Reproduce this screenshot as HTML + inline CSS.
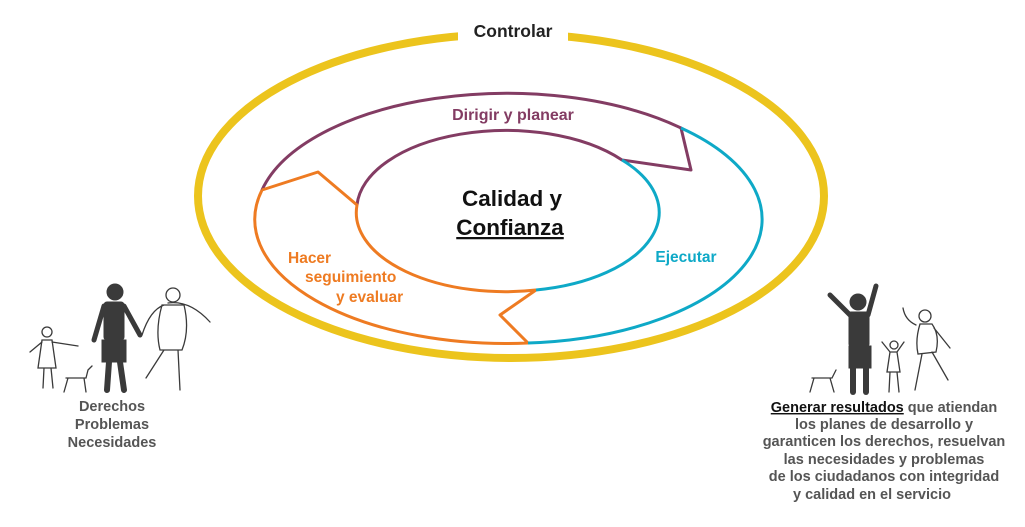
<!DOCTYPE html>
<html><head><meta charset="utf-8"><style>
body{margin:0;background:#fff;width:1025px;height:522px;overflow:hidden;font-family:"Liberation Sans",sans-serif;}
</style></head><body>
<svg width="1025" height="522" viewBox="0 0 1025 522" xmlns="http://www.w3.org/2000/svg" font-family="Liberation Sans, sans-serif" font-weight="bold">
<ellipse cx="511" cy="196" rx="313" ry="162" fill="none" stroke="#ecc41d" stroke-width="8"/>
<rect x="458" y="15" width="110" height="32" fill="#fff"/>
<text x="513" y="37" text-anchor="middle" font-size="17.5" fill="#222">Controlar</text>
<g fill="none" stroke-width="3" stroke-linejoin="round">
<path d="M262,190 A251,124 0 0 1 681,128 L691,170 L622,160 A149,79 0 0 0 357,205" stroke="#833c63"/>
<path d="M262,190 L318,172 L357,205 A149,79 0 0 0 536,290 L500,315 L528,343 A251,124 0 0 1 262,190" stroke="#ee7b22"/>
<path d="M622,160 A149,79 0 0 1 536,290" stroke="#0ea9c7"/>
<path d="M681,128 A251,124 0 0 1 528,343" stroke="#0ea9c7"/>
</g>
<text x="513" y="120" text-anchor="middle" font-size="16" fill="#833c63">Dirigir y planear</text>
<text x="512" y="206" text-anchor="middle" font-size="22.5" fill="#111">Calidad y</text>
<text x="510" y="235" text-anchor="middle" font-size="22.5" fill="#111" text-decoration="underline">Confianza</text>
<text x="686" y="262" text-anchor="middle" font-size="15.5" fill="#0ea9c7">Ejecutar</text>
<g font-size="15.5" fill="#ee7b22">
<text x="288" y="263">Hacer</text>
<text x="305" y="282">seguimiento</text>
<text x="336" y="302">y evaluar</text>
</g>
<!-- left family -->
<g fill="#3a3a3a" stroke="#3a3a3a" stroke-linecap="round">
<circle cx="115" cy="292" r="8"/>
<rect x="104" y="302" width="20" height="38" rx="3"/>
<rect x="102" y="340" width="24" height="22"/>
<line x1="109" y1="362" x2="107" y2="390" stroke-width="6"/>
<line x1="120" y1="362" x2="124" y2="390" stroke-width="6"/>
<line x1="104" y1="306" x2="94" y2="340" stroke-width="5"/>
<line x1="124" y1="306" x2="140" y2="335" stroke-width="5"/>
<g fill="none" stroke-width="1.3">
<circle cx="173" cy="295" r="7"/>
<path d="M164,305 Q150,310 142,335 M168,303 Q190,300 210,322 M162,305 Q155,330 160,350 L182,350 Q190,330 184,305 Z M164,350 L146,378 M178,350 L180,390"/>
<circle cx="47" cy="332" r="5"/>
<path d="M42,340 L38,368 L56,368 L52,340 Z M44,368 L43,388 M51,368 L53,388 M42,342 L30,352 M52,342 L78,346"/>
<path d="M66,378 L86,378 L88,370 M68,378 L64,392 M84,378 L86,392 M88,370 L92,366"/>
</g>
</g>
<g font-size="14.5" fill="#555" text-anchor="middle">
<text x="112" y="411">Derechos</text>
<text x="112" y="429">Problemas</text>
<text x="112" y="447">Necesidades</text>
</g>
<!-- right family -->
<g fill="#3a3a3a" stroke="#3a3a3a" stroke-linecap="round">
<circle cx="858" cy="302" r="8"/>
<rect x="849" y="312" width="20" height="34" rx="2"/>
<rect x="849" y="346" width="22" height="22"/>
<line x1="853" y1="368" x2="853" y2="392" stroke-width="6"/>
<line x1="866" y1="368" x2="866" y2="392" stroke-width="6"/>
<line x1="850" y1="315" x2="830" y2="295" stroke-width="5"/>
<line x1="868" y1="315" x2="876" y2="286" stroke-width="5"/>
<g fill="none" stroke-width="1.3">
<circle cx="925" cy="316" r="6"/>
<path d="M916,325 Q905,320 903,308 M920,324 Q915,340 918,354 L936,352 Q940,335 932,324 Z M922,354 L915,390 M932,352 L948,380 M934,328 L950,348"/>
<circle cx="894" cy="345" r="4"/>
<path d="M890,352 L887,372 L900,372 L897,352 Z M890,372 L889,392 M897,372 L899,392 M890,352 L882,342 M897,352 L904,342"/>
<path d="M812,378 L832,378 L836,370 M814,378 L810,392 M830,378 L834,392"/>
</g>
</g>
<g font-size="14.5" fill="#555" text-anchor="middle">
<text x="884" y="412"><tspan fill="#111" text-decoration="underline">Generar resultados</tspan> que atiendan</text>
<text x="884" y="429">los planes de desarrollo y</text>
<text x="884" y="446">garanticen los derechos, resuelvan</text>
<text x="884" y="464">las necesidades y problemas</text>
<text x="884" y="481">de los ciudadanos con integridad</text>
<text x="872" y="499">y calidad en el servicio</text>
</g>
</svg>
</body></html>
